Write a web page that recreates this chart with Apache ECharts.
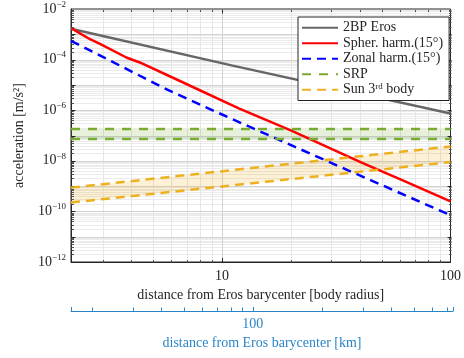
<!DOCTYPE html>
<html>
<head>
<meta charset="utf-8">
<script src="https://cdn.jsdelivr.net/npm/echarts@6/dist/echarts.min.js"></script>
<style>
html,body{margin:0;padding:0;background:#fff;}
#chart{width:464px;height:358px;}
</style>
</head>
<body>
<div id="chart"></div>
<script>
// distance in body radius, acceleration in m/s^2
const twoBP    = [[2.18, 1.65e-3], [11, 5.9e-5], [100, 7.4e-7]]
const spherH   = [[2.2, 1.68e-3], [2.64, 6.4e-4], [2.92, 4.2e-4], [3.81, 1.21e-4], [4.36, 7.7e-5], [6.5, 1.46e-5],
                  [11.9, 1.16e-6], [20.1, 1.57e-7], [40.6, 8.6e-9], [61.8, 1.69e-9], [100, 2.5e-10]]
const zonalH   = [[2.18, 5.5e-4], [5.88, 5.9e-6], [10.7, 5.1e-7], [35.6, 4.2e-9], [44.9, 1.69e-9], [100, 7.1e-11]]
const srpHi    = [[2.18, 1.8e-7], [100, 1.8e-7]]
const srpLo    = [[2.18, 7.3e-8], [100, 7.3e-8]]
const sunHi    = [[2.18, 8.7e-10], [100, 3.7e-8]]
const sunLo    = [[2.18, 2.24e-10], [100, 8.9e-9]]

// axis ranges and grid positions
const xRange   = [2.18, 100]
const kmRange  = [16.2, 741]
const yRange   = [1e-12, 1e-2]
const majorX   = [10]
const minorX   = [3, 4, 5, 6, 7, 8, 9, 20, 30, 40, 50, 60, 70, 80, 90]
const minorKm  = [20, 30, 40, 50, 60, 70, 80, 90, 200, 300, 400, 500, 600, 700]
const mults    = [2, 3, 4, 5, 6, 7, 8, 9]
const decadesY = [-12, -11, -10, -9, -8, -7, -6, -5, -4, -3]

const minorY = []
const majorY = []
decadesY.forEach(e => {
    if (e > -12) majorY.push(Math.pow(10, e))
    mults.forEach(m => minorY.push(m * Math.pow(10, e)))
})

const serif = 'Liberation Serif'
const ink = '#262626'
const kmBlue = '#2a85c8'

function band(lo, hi, color){
    return {
        type:'custom',
        xAxisIndex:0, yAxisIndex:0,
        silent:true,
        z:1,
        data:lo.map((p, i) => [p[0], p[1], hi[i][1]]),
        renderItem:(params, api) => {
            if (params.dataIndex !== 0) return
            const top = hi.map(p => api.coord(p))
            const bot = lo.map(p => api.coord(p)).reverse()
            return {
                type:'polygon',
                shape:{points:top.concat(bot)},
                style:{fill:color}
            }
        }
    }
}

// grid lines across the plot, or short ticks at both box edges when len is given
function gridLines(vals, dir, color, xi, yi, xr, yr, len, z){
    return {
        type:'custom',
        xAxisIndex:xi, yAxisIndex:yi,
        silent:true,
        z:z || 0,
        data:vals.map(v => [v]),
        renderItem:(params, api) => {
            const v = api.value(0)
            const a = dir === 'x' ? api.coord([v, yr[0]]) : api.coord([xr[0], v])
            const b = dir === 'x' ? api.coord([v, yr[1]]) : api.coord([xr[1], v])
            const ax = Math.round(a[0]) + 0.5, ay = Math.round(a[1]) + 0.5
            const bx = Math.round(b[0]) + 0.5, by = Math.round(b[1]) + 0.5
            const st = {stroke:color, lineWidth:1}
            if (!len) {
                return {type:'line', shape:{x1:ax, y1:ay, x2:bx, y2:by}, style:st}
            }
            const segs = dir === 'x'
                ? [[ax, ay, ax, ay - len], [bx, by, bx, by + len]]
                : [[ax, ay, ax + len, ay], [bx, by, bx - len, by]]
            return {
                type:'group',
                children:segs.map(s => ({type:'line', shape:{x1:s[0], y1:s[1], x2:s[2], y2:s[3]}, style:st}))
            }
        }
    }
}

const chart = echarts.init(document.getElementById('chart'))
chart.setOption({
    animation:false,
    grid:[
        {left:71, right:11, top:8, bottom:96, show:true, borderColor:ink, borderWidth:1, backgroundColor:'transparent'},
        {left:71, right:11, top:307, height:4}
    ],
    legend:{
        orient:'vertical',
        left:298, top:17,
        z:20,
        padding:[3, 6, 3, 3],
        itemWidth:36, itemHeight:4, itemGap:0,
        backgroundColor:'#fff',
        borderColor:ink, borderWidth:1,
        itemStyle:{opacity:0},
        textStyle:{fontFamily:serif, fontSize:14, lineHeight:15.5, color:ink,
            rich:{sup:{fontFamily:serif, fontSize:9, lineHeight:15.5, color:ink, verticalAlign:'top'}}},
        formatter:name => name === 'Sun 3rd body' ? 'Sun 3{sup|rd} body' : name,
        data:['2BP Eros', 'Spher. harm.(15°)', 'Zonal harm.(15°)', 'SRP', 'Sun 3rd body']
    },
    xAxis:[
        {
            type:'log', gridIndex:0, min:xRange[0], max:xRange[1],
            axisLine:{lineStyle:{color:ink}},
            axisTick:{inside:true, length:4, lineStyle:{color:ink}},
            axisLabel:{fontFamily:serif, fontSize:14, color:ink, margin:7, showMinLabel:false,
                formatter:v => (Math.abs(v - 10) < 1e-6 || Math.abs(v - 100) < 1e-6) ? String(Math.round(v)) : ''},
            splitLine:{show:false},
            name:'distance from Eros barycenter [body radius]',
            nameLocation:'middle', nameGap:26,
            nameTextStyle:{fontFamily:serif, fontSize:14, color:ink}
        },
        {
            type:'log', gridIndex:1, min:kmRange[0], max:kmRange[1],
            axisLine:{lineStyle:{color:kmBlue}},
            axisTick:{inside:true, length:4, lineStyle:{color:kmBlue}},
            axisLabel:{fontFamily:serif, fontSize:14, color:kmBlue, margin:6,
                formatter:v => Math.abs(v - 100) < 1e-6 ? '100' : ''},
            splitLine:{show:false},
            name:'distance from Eros barycenter [km]',
            nameLocation:'middle', nameGap:25,
            nameTextStyle:{fontFamily:serif, fontSize:14, color:kmBlue}
        }
    ],
    yAxis:[
        {
            type:'log', gridIndex:0, min:yRange[0], max:yRange[1], interval:1,
            axisLine:{lineStyle:{color:ink}},
            axisTick:{show:false},
            axisLabel:{fontFamily:serif, fontSize:14, color:ink, margin:5,
                rich:{sup:{fontFamily:serif, fontSize:9, color:ink, padding:[0,0,9,0]}},
                formatter:v => {
                    const e = Math.round(Math.log10(v))
                    if (e % 2 !== 0) return ''
                    return '10{sup|\u2212' + (-e) + '}'
                }},
            splitLine:{show:false},
            name:'acceleration [m/s²]',
            nameLocation:'middle', nameGap:45,
            nameTextStyle:{fontFamily:serif, fontSize:14, color:ink}
        },
        {type:'value', gridIndex:1, min:0, max:1, show:false}
    ],
    series:[
        gridLines(minorY, 'y', '#ebebeb', 0, 0, xRange, yRange),
        gridLines(minorX, 'x', '#e6e6e6', 0, 0, xRange, yRange),
        gridLines(majorY, 'y', '#d2d2d2', 0, 0, xRange, yRange),
        gridLines(majorX, 'x', '#d2d2d2', 0, 0, xRange, yRange),
        gridLines(minorY, 'y', '#555555', 0, 0, xRange, yRange, 2.5, 2),
        gridLines(majorY, 'y', ink, 0, 0, xRange, yRange, 4, 2),
        gridLines(minorX, 'x', '#555555', 0, 0, xRange, yRange, 2.5, 2),
        gridLines(majorX, 'x', ink, 0, 0, xRange, yRange, 4, 2),
        gridLines(minorKm, 'x', kmBlue, 1, 1, kmRange, [0, 1]),
        band(srpLo, srpHi, 'rgba(119,172,48,0.18)'),
        band(sunLo, sunHi, 'rgba(237,177,32,0.18)'),
        {name:'2BP Eros', type:'line', data:twoBP, symbol:'none', z:3,
            lineStyle:{color:'#666666', width:2.5}, itemStyle:{color:'#666666'}},
        {name:'Spher. harm.(15°)', type:'line', data:spherH, symbol:'none', z:3,
            lineStyle:{color:'#ff0000', width:2.5}, itemStyle:{color:'#ff0000'}},
        {name:'Zonal harm.(15°)', type:'line', data:zonalH, symbol:'none', z:3,
            lineStyle:{color:'#0000ff', width:2.5, type:[9,6]}, itemStyle:{color:'#0000ff'}},
        {name:'SRP', type:'line', data:srpHi, symbol:'none', z:3,
            lineStyle:{color:'#77ac30', width:2.5, type:[9,8]}, itemStyle:{color:'#77ac30'}},
        {name:'SRP', type:'line', data:srpLo, symbol:'none', z:3,
            lineStyle:{color:'#77ac30', width:2.5, type:[9,8]}, itemStyle:{color:'#77ac30'}},
        {name:'Sun 3rd body', type:'line', data:sunHi, symbol:'none', z:3,
            lineStyle:{color:'#edb120', width:2.5, type:[9,6]}, itemStyle:{color:'#edb120'}},
        {name:'Sun 3rd body', type:'line', data:sunLo, symbol:'none', z:3,
            lineStyle:{color:'#edb120', width:2.5, type:[9,6]}, itemStyle:{color:'#edb120'}}
    ]
})
</script>
</body>
</html>
